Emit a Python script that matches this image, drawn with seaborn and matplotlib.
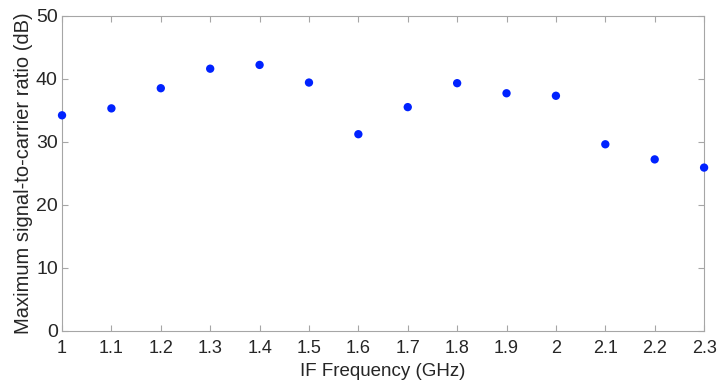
import numpy as np
import pandas as pd
import matplotlib
matplotlib.use("Agg")
import matplotlib.pyplot as plt
import seaborn as sns

# IF frequency (GHz) and max signal-to-carrier ratio (dB)
freq_ghz = [1.0, 1.1, 1.2, 1.3, 1.4, 1.5, 1.6, 1.7, 1.8, 1.9, 2.0, 2.1, 2.2, 2.3]
scr_db = [34.2, 35.3, 38.5, 41.6, 42.2, 39.4, 31.2, 35.5, 39.3, 37.7, 37.3, 29.6, 27.2, 25.9]
x_ticks = [1, 1.1, 1.2, 1.3, 1.4, 1.5, 1.6, 1.7, 1.8, 1.9, 2, 2.1, 2.2, 2.3]
x_labels = ['1', '1.1', '1.2', '1.3', '1.4', '1.5', '1.6', '1.7', '1.8', '1.9', '2', '2.1', '2.2', '2.3']
y_ticks = [0, 10, 20, 30, 40, 50]

sns.set_style("white")
plt.rcParams['font.family'] = ['Liberation Sans', 'DejaVu Sans']

df = pd.DataFrame({'freq': freq_ghz, 'scr': scr_db})

fig = plt.figure(figsize=(7.17, 3.85), dpi=100)
ax = fig.add_axes([0.0865, 0.141, 0.8955, 0.818])

sns.scatterplot(data=df, x='freq', y='scr', color='#0022ff', s=36,
                edgecolor='none', clip_on=False, zorder=3, ax=ax)

ax.set_xlim(1, 2.3)
ax.set_ylim(0, 50)
ax.set_xticks(x_ticks)
ax.set_xticklabels(x_labels, fontsize=13)
ax.set_yticks(y_ticks)
ax.set_yticklabels([str(v) for v in y_ticks], fontsize=14)

ax.set_xlabel('IF Frequency (GHz)', fontsize=13.5, color='#262626', labelpad=4)
ax.set_ylabel('Maximum signal-to-carrier ratio (dB)', fontsize=14.5, color='#262626', labelpad=2)
ax.tick_params(direction='in', length=4, width=0.8, colors='#a6a6a6',
               labelcolor='#262626', top=True, right=True,
               bottom=True, left=True)
ax.tick_params(axis='x', pad=7)
ax.tick_params(axis='y', pad=3)
for sp in ax.spines.values():
    sp.set_visible(True)
    sp.set_color('#a6a6a6')
    sp.set_linewidth(0.8)

fig.savefig('out.png', dpi=100)
